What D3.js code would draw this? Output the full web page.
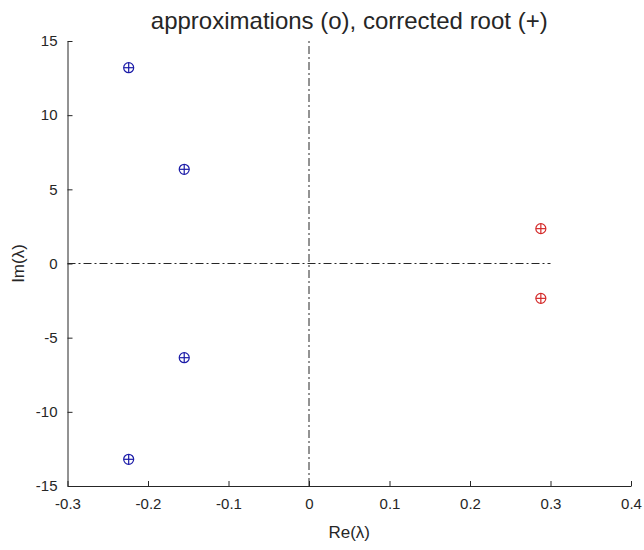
<!DOCTYPE html>
<html>
<head>
<meta charset="utf-8">
<script src="https://cdn.jsdelivr.net/npm/d3@7"></script>
<style>
  body { margin: 0; background: #fff; }
  svg text { font-family: "Liberation Sans", Arial, sans-serif; fill: #262626; }
</style>
</head>
<body>
<div id="chart"></div>
<script>
// approximations (o) with corrected roots (+) in the complex plane
const STABLE_RE = [-0.224, -0.155, -0.155, -0.224];
const STABLE_IM = [13.2, 6.35, -6.35, -13.2];
const UNSTABLE_RE = [0.288, 0.288];
const UNSTABLE_IM = [2.35, -2.35];

const X_DOMAIN = [-0.3, 0.4];
const Y_DOMAIN = [-15, 15];
const X_TICKS = [-0.3, -0.2, -0.1, 0, 0.1, 0.2, 0.3, 0.4];
const Y_TICKS = [-15, -10, -5, 0, 5, 10, 15];
const HLINE_X = [-0.3, 0.3];
const VLINE_Y = [-15, 15];

const SVG_WIDTH = 644;
const SVG_HEIGHT = 550;
const X_LEFT = 67.5, X_RIGHT = 631;
const Y_TOP = 41, Y_BOTTOM = 486;
const AXIS_COLOR = "#262626";
const BLUE = "#1c1ca8";
const RED = "#d42a2a";

const svg = d3.select("#chart")
  .append("svg")
  .attr("width", SVG_WIDTH)
  .attr("height", SVG_HEIGHT);

const xScale = d3.scaleLinear().domain(X_DOMAIN).range([X_LEFT, X_RIGHT]);
const yScale = d3.scaleLinear().domain(Y_DOMAIN).range([Y_BOTTOM, Y_TOP]);

// dash-dot reference lines
const dashDot = "8,3,2,3";
svg.append("line")
  .attr("x1", xScale(HLINE_X[0])).attr("x2", xScale(HLINE_X[1]))
  .attr("y1", yScale(0)).attr("y2", yScale(0))
  .attr("stroke", AXIS_COLOR).attr("stroke-width", 1)
  .attr("stroke-dasharray", dashDot);
svg.append("line")
  .attr("x1", xScale(0)).attr("x2", xScale(0))
  .attr("y1", yScale(VLINE_Y[0])).attr("y2", yScale(VLINE_Y[1]))
  .attr("stroke", AXIS_COLOR).attr("stroke-width", 1)
  .attr("stroke-dasharray", dashDot);

// axes, ticks pointing inward like matlab (plain hyphen for minus)
const fmt = d => String(+d.toFixed(2));
svg.append("g")
  .attr("class", "x-axis")
  .attr("transform", `translate(0, ${Y_BOTTOM})`)
  .call(d3.axisBottom(xScale).tickValues(X_TICKS).tickFormat(fmt)
    .tickSizeInner(-5).tickSizeOuter(0).tickPadding(12));
svg.append("g")
  .attr("class", "y-axis")
  .attr("transform", `translate(${X_LEFT}, 0)`)
  .call(d3.axisLeft(yScale).tickValues(Y_TICKS).tickFormat(fmt)
    .tickSizeInner(-5).tickSizeOuter(0).tickPadding(10));

svg.selectAll(".x-axis path, .y-axis path, .x-axis line, .y-axis line")
  .attr("stroke", AXIS_COLOR);
svg.selectAll(".x-axis text, .y-axis text")
  .attr("fill", AXIS_COLOR)
  .style("font-size", "15px")
  .style("font-family", "\"Liberation Sans\", Arial, sans-serif");

// markers: circle (approximation) plus cross (corrected root)
function drawMarkers(re, im, color) {
  const pts = re.map((r, i) => ({ re: r, im: im[i] }));
  const g = svg.append("g");
  const m = g.selectAll("g.pt").data(pts).enter().append("g")
    .attr("class", "pt")
    .attr("transform", d => `translate(${xScale(d.re)}, ${yScale(d.im)})`);
  m.append("circle").attr("r", 5).attr("fill", "none")
    .attr("stroke", color).attr("stroke-width", 1.2);
  m.append("line").attr("x1", -5).attr("x2", 5)
    .attr("stroke", color).attr("stroke-width", 1.2);
  m.append("line").attr("y1", -5).attr("y2", 5)
    .attr("stroke", color).attr("stroke-width", 1.2);
}
drawMarkers(STABLE_RE, STABLE_IM, BLUE);
drawMarkers(UNSTABLE_RE, UNSTABLE_IM, RED);

// title and labels
svg.append("text")
  .attr("x", (X_LEFT + X_RIGHT) / 2)
  .attr("y", 29)
  .style("text-anchor", "middle")
  .style("font-size", "24px")
  .text("approximations (o), corrected root (+)");

svg.append("text")
  .attr("x", (X_LEFT + X_RIGHT) / 2)
  .attr("y", 538)
  .style("text-anchor", "middle")
  .style("font-size", "17px")
  .text("Re(λ)");

svg.append("text")
  .attr("transform", "rotate(-90)")
  .attr("x", -yScale(0))
  .attr("y", 24)
  .style("text-anchor", "middle")
  .style("font-size", "17px")
  .text("Im(λ)");
</script>
</body>
</html>
